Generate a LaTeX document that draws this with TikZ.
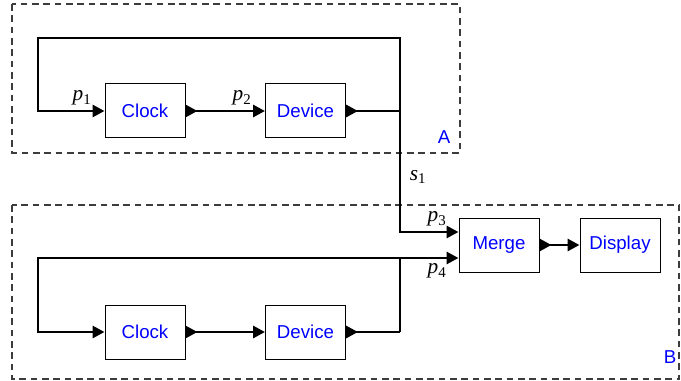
\documentclass[tikz,border=0pt]{standalone}
\usepackage{fontspec}
\setmainfont{Liberation Sans}
\newfontfamily\sigfont{Liberation Serif}
\usetikzlibrary{arrows.meta}
\definecolor{tagblue}{RGB}{0,0,255}
\definecolor{groupgray}{RGB}{60,60,60}
\newcommand{\signame}[2]{{\sigfont\itshape #1}\textsubscript{\sigfont #2}}
\tikzset{
  block/.style={draw,line width=.75pt,minimum width=60pt,minimum height=40.5pt,
    inner sep=0pt,text=tagblue,font=\fontsize{14}{16}\selectfont},
  wire/.style={line width=2.2pt,-{Triangle[length=9pt,width=9pt]}},
  portwire/.style={line width=2.2pt,{Triangle[reversed,length=9pt,width=9pt]}-{Triangle[length=9pt,width=9pt]}},
  portline/.style={line width=2.2pt,{Triangle[reversed,length=9pt,width=9pt]}-},
  group/.style={draw=groupgray,line width=.8pt,dash pattern=on 5pt off 3.5pt},
  tag/.style={text=tagblue,font=\fontsize{14}{16}\selectfont},
  sig/.style={font=\fontsize{16}{18}\selectfont,inner sep=0pt}
}

\begin{document}
\begin{tikzpicture}[x=.75pt,y=-.75pt]
  \useasboundingbox (0,0) rectangle (681,381);
  % groups
  \draw[group] (12,4) rectangle (460,153);
  \draw[group] (12,205) rectangle (679,379);
  \node[tag] (tagA) at (444,137) {A};
  \node[tag] (tagB) at (670,357) {B};

  % blocks
  \node[block] (clockA) at (145,111) {Clock};
  \node[block] (deviceA) at (305.5,111) {Device};
  \node[block] (clockB) at (145,332) {Clock};
  \node[block] (deviceB) at (305.5,332) {Device};
  \node[block] (merge) at (499,245) {Merge};
  \node[block] (display) at (620,245) {Display};

  \coordinate (jA) at (400,111);
  \coordinate (cornerA) at (38,38);
  \coordinate (jB) at (400,332);
  \coordinate (cornerB) at (38,258);

  % top loop
  \draw[portwire] (clockA.east) -- (deviceA.west);
  \draw[portline] (deviceA.east) -- (jA);
  \draw[wire] (jA) |- (cornerA) |- (clockA.west);
  \draw[wire] (jA) |- ([yshift=9.75pt]merge.west);

  % bottom loop
  \draw[portwire] (clockB.east) -- (deviceB.west);
  \draw[portline] (deviceB.east) -- (jB);
  \draw[wire] (jB) |- (cornerB) |- (clockB.west);
  \draw[wire] (jB |- cornerB) -- ([yshift=-9.75pt]merge.west);

  \draw[portwire] (merge.east) -- (display.west);

  % signal names
  \node[sig] (p1) at (82,98) {\signame{p}{1}};
  \node[sig] (p2) at (242,98) {\signame{p}{2}};
  \node[sig] (s1) at (418,177) {\signame{s}{1}};
  \node[sig] (p3) at (437,219) {\signame{p}{3}};
  \node[sig] (p4) at (437,271) {\signame{p}{4}};
\end{tikzpicture}
\end{document}
